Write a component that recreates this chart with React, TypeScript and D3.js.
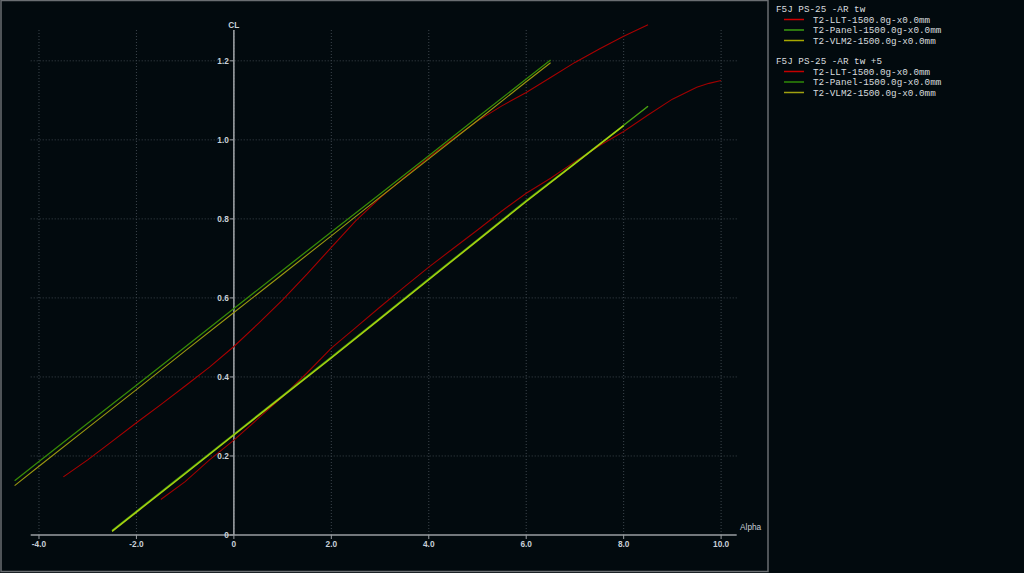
import * as d3 from 'd3';

// F5J PS-25 -AR tw
const alphaPanelA = [-4.5, -4, -3, -2, -1, 0, 1, 2, 3, 4, 5, 6, 6.5];
const clPanelA = [0.137, 0.186, 0.283, 0.379, 0.476, 0.573, 0.67, 0.767, 0.863, 0.96, 1.057, 1.154, 1.202];
const alphaVlmA = [-4.5, -4, -3, -2, -1, 0, 1, 2, 3, 4, 5, 6, 6.5];
const clVlmA = [0.125, 0.174, 0.271, 0.368, 0.466, 0.563, 0.66, 0.757, 0.855, 0.952, 1.049, 1.147, 1.195];
const alphaLltA = [-3.5, -3, -2.5, -2, -1.5, -1, -0.5, 0, 0.5, 1, 1.5, 2, 2.5, 3, 3.5, 4, 4.5, 5, 5.5, 6, 6.5, 7, 7.5, 8, 8.5];
const clLltA = [0.147, 0.19, 0.237, 0.284, 0.33, 0.377, 0.425, 0.477, 0.535, 0.595, 0.66, 0.728, 0.795, 0.853, 0.905, 0.955, 1.003, 1.048, 1.086, 1.12, 1.158, 1.196, 1.23, 1.262, 1.291];

// F5J PS-25 -AR tw +5
const alphaPanelB = [-2.5, -2, -1, 0, 1, 2, 3, 4, 5, 6, 7, 8, 8.5];
const clPanelB = [0.011, 0.06, 0.157, 0.255, 0.353, 0.45, 0.549, 0.648, 0.747, 0.846, 0.941, 1.037, 1.085];
const alphaVlmB = [-2.5, -2, -1, 0, 1, 2, 3, 4, 5, 6, 7, 8];
const clVlmB = [0.009, 0.058, 0.155, 0.253, 0.351, 0.448, 0.547, 0.646, 0.745, 0.844, 0.94, 1.036];
const alphaLltB = [-1.5, -1, -0.5, 0, 0.5, 1, 1.5, 2, 2.5, 3, 3.5, 4, 4.5, 5, 5.5, 6, 6.5, 7, 7.5, 8, 8.5, 9, 9.5, 9.75, 10];
const clLltB = [0.09, 0.135, 0.19, 0.24, 0.295, 0.35, 0.41, 0.473, 0.525, 0.577, 0.628, 0.678, 0.725, 0.772, 0.82, 0.865, 0.903, 0.945, 0.985, 1.021, 1.063, 1.103, 1.133, 1.143, 1.15];

const xTicks = [-4, -2, 0, 2, 4, 6, 8, 10];
const xTickLabels = ['-4.0', '-2.0', '0', '2.0', '4.0', '6.0', '8.0', '10.0'];
const yTicks = [0, 0.2, 0.4, 0.6, 0.8, 1.0, 1.2];
const yTickLabels = ['0', '0.2', '0.4', '0.6', '0.8', '1.0', '1.2'];

const groups = [
  {
    title: 'F5J PS-25 -AR tw',
    series: [
      { name: 'T2-LLT-1500.0g-x0.0mm', alpha: alphaLltA, cl: clLltA, color: '#a80000', legend: '#d00000', w: 1.1 },
      { name: 'T2-Panel-1500.0g-x0.0mm', alpha: alphaPanelA, cl: clPanelA, color: '#368a06', legend: '#3c9c10', w: 1.3 },
      { name: 'T2-VLM2-1500.0g-x0.0mm', alpha: alphaVlmA, cl: clVlmA, color: '#9c9810', legend: '#a8a800', w: 1.1 },
    ],
  },
  {
    title: 'F5J PS-25 -AR tw +5',
    series: [
      { name: 'T2-LLT-1500.0g-x0.0mm', alpha: alphaLltB, cl: clLltB, color: '#a00000', legend: '#c40000', w: 1.1 },
      { name: 'T2-Panel-1500.0g-x0.0mm', alpha: alphaPanelB, cl: clPanelB, color: '#48a010', legend: '#2f8a08', w: 1.5 },
      { name: 'T2-VLM2-1500.0g-x0.0mm', alpha: alphaVlmB, cl: clVlmB, color: '#a8d010', legend: '#a0a010', w: 1.5 },
    ],
  },
];

const W = 1024;
const H = 573;
const BG = '#020a0e';
const TICK_COLOR = '#c8d0d8';
const GRID = '#3c454c';

export default function App() {
  const x = d3.scaleLinear().domain([-4.17, 10.32]).range([30.7, 736.7]);
  const y = d3.scaleLinear().domain([0, 1.278]).range([535, 30]);
  const line = d3
    .line<[number, number]>()
    .x((d) => x(d[0]))
    .y((d) => y(d[1]));

  const tickFont = { fontFamily: 'Liberation Sans, Arial, sans-serif', fontSize: 8.3, fontWeight: 'bold' as const };
  const monoFont = { fontFamily: 'Liberation Mono, Courier New, monospace', fontSize: 9.3 };

  return (
    <svg
      width={W}
      height={H}
      style={{ position: 'absolute', left: 0, top: 0, background: BG }}
    >
      <rect x={0} y={0} width={W} height={H} fill={BG} />
      <rect x={1} y={0.5} width={767} height={571} fill="none" stroke="#6a6e72" strokeWidth={1.5} />

      {/* grid */}
      {xTicks.map((t) => (
        <line key={'gx' + t} x1={x(t)} x2={x(t)} y1={y(1.278)} y2={y(0)} stroke={GRID} strokeDasharray="1,2" />
      ))}
      {yTicks.slice(1).map((t) => (
        <line key={'gy' + t} x1={x(-4.17)} x2={x(10.32)} y1={y(t)} y2={y(t)} stroke={GRID} strokeDasharray="1,2" />
      ))}

      {/* axes */}
      <line x1={x(-4.17)} x2={x(10.32)} y1={y(0)} y2={y(0)} stroke="#9a9ea2" strokeWidth={1.6} />
      <line x1={x(0)} x2={x(0)} y1={y(1.278)} y2={y(0)} stroke="#9a9ea2" strokeWidth={1.6} />
      {xTicks.map((t, i) => (
        <g key={'xt' + t}>
          <line x1={x(t)} x2={x(t)} y1={y(0)} y2={y(0) + 4} stroke="#9a9ea2" />
          <text x={x(t)} y={y(0) + 12} textAnchor="middle" fill={TICK_COLOR} {...tickFont}>
            {xTickLabels[i]}
          </text>
        </g>
      ))}
      {yTicks.map((t, i) => (
        <g key={'yt' + t}>
          <line x1={x(0) - 4} x2={x(0)} y1={y(t)} y2={y(t)} stroke="#9a9ea2" />
          <text x={x(0) - 5} y={y(t) + 3} textAnchor="end" fill={TICK_COLOR} {...tickFont}>
            {yTickLabels[i]}
          </text>
        </g>
      ))}
      <text x={x(0)} y={28} textAnchor="middle" fill={TICK_COLOR} {...tickFont}>
        CL
      </text>
      <text x={740} y={530} fill={TICK_COLOR} {...tickFont} fontWeight="normal">
        Alpha
      </text>

      {/* curves */}
      {groups.map((g, gi) =>
        g.series.map((s, si) => (
          <path
            key={'p' + gi + si}
            d={line(s.alpha.map((a, k) => [a, s.cl[k]] as [number, number])) || ''}
            fill="none"
            stroke={s.color}
            strokeWidth={s.w}
          />
        ))
      )}

      {/* legend */}
      {groups.map((g, gi) => {
        const top = 12 + gi * 52;
        return (
          <g key={'lg' + gi}>
            <text x={776} y={top} fill="#d8dcdf" {...monoFont}>
              {g.title}
            </text>
            {g.series.map((s, si) => {
              const cy = top + 7.5 + si * 10.5;
              return (
                <g key={'li' + si}>
                  <line x1={784} x2={804} y1={cy} y2={cy} stroke={s.legend} strokeWidth={1.5} />
                  <text x={813} y={cy + 3} fill="#d8dcdf" {...monoFont}>
                    {s.name}
                  </text>
                </g>
              );
            })}
          </g>
        );
      })}
    </svg>
  );
}
